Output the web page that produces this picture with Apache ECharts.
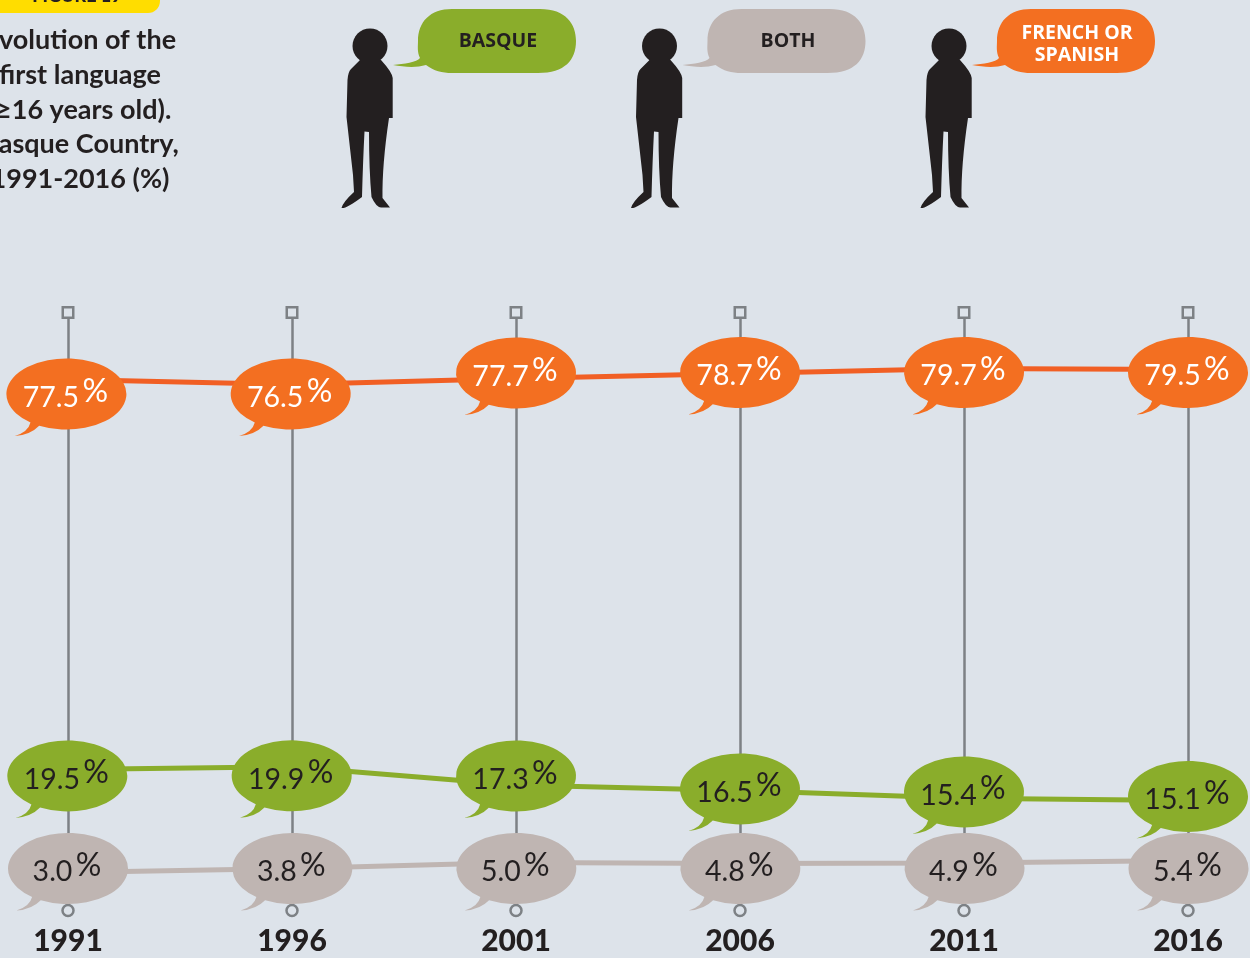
<!DOCTYPE html>
<html>
<head>
<meta charset="utf-8">
<style>html,body{margin:0;padding:0;background:#dde3ea}#c{width:1250px;height:958px}</style>
<script src="https://cdn.jsdelivr.net/npm/echarts@6/dist/echarts.min.js"></script>
</head>
<body>
<div id="c"></div>
<script>
const years = ['1991','1996','2001','2006','2011','2016'];
const frenchOrSpanish = [77.5,76.5,77.7,78.7,79.7,79.5];
const basque = [19.5,19.9,17.3,16.5,15.4,15.1];
const both = [3.0,3.8,5.0,4.8,4.9,5.4];
const titleLines = ['Evolution of the','first language','(≥16 years old).','Basque Country,','1991-2016 (%)'];

// Callouts are placed beside their data point in the reference: pixel nudges from the point.
const orangeNudge = [[-1.6,14.5],[-1.3,9.5],[0,-5.5],[0,-1],[0,4],[0,3]];
const greenNudge  = [[-0.7,6.3],[-0.3,9],[0,-9],[0,-1.7],[0,-6.4],[0,-4]];
const greyNudge   = [[0,-4],[0.3,0],[0.3,6],[0.3,5],[0.5,5.5],[0.5,8]];

const ORANGE='#f36f21', ORANGE_LINE='#f15f24', GREEN='#8aad2b', GREY='#bfb5b2', INK='#231f20', BG='#dde3ea', STEM='#7d8185';
const FONT='Lato';
const bubble='path://M-27 31.7A60 35.5 0 1 0 -35.7 28.5Q-38 38 -51.4 42Q-36 41 -27 31.7Z';

function dataSeries(name, values, nudge, axis, fill, lineColor, textColor, z){
  return {
    name, type:'line', yAxisIndex:axis, z, clip:false, showSymbol:true, showAllSymbol:true,
    symbol:bubble, symbolSize:[120,77.5],
    lineStyle:{color:lineColor,width:5}, itemStyle:{color:fill,opacity:1},
    emphasis:{disabled:true},
    data: values.map((v,i)=>({
      value:v,
      symbolOffset:[nudge[i][0], nudge[i][1]+3.25]
    })),
    label:{
      show:true, position:'inside', offset:[-1,-1.5],
      formatter:p=>`{n|${p.value.toFixed(1)}} {p|%}`,
      rich:{
        n:{fontFamily:FONT,fontSize:28.5,color:textColor,padding:[4,0,0,0]},
        p:{fontFamily:FONT,fontSize:32,color:textColor,padding:[0,0,9,0]}
      }
    }
  };
}

function personPath(){
  const p=(x,y)=>x+' '+y;
  return 'M'+p(360,60)+'L'+p(351,69)+'Q'+p(348,72)+' '+p(347.5,80)+'L'+p(346.5,117)+'L'+p(353,175)+'L'+p(354,192)
    +'Q'+p(343,202)+' '+p(341.5,208)+'Q'+p(346,209)+' '+p(362,197)+'Q'+p(363,160)+' '+p(364.5,131.5)+'L'+p(369,132)
    +'Q'+p(369,170)+' '+p(371.5,197)+'Q'+p(376,207)+' '+p(381,207.5)+'L'+p(390,207.5)+'L'+p(382.5,198)+'Q'+p(382,165)+' '+p(389,118)
    +'L'+p(392.7,118)+'L'+p(392.7,78)+'Q'+p(392,72)+' '+p(381,60)+'Z';
}
function calloutPath(){
  const p=(x,y)=>x+' '+y;
  return 'M'+p(452,9)+'L'+p(540,9)+'C'+p(566,9)+' '+p(576,24)+' '+p(576,41)+'C'+p(576,60)+' '+p(565,73)+' '+p(538,73)
    +'L'+p(452,73)+'C'+p(442,73)+' '+p(434,71)+' '+p(426,65)+'C'+p(416,68)+' '+p(404,67)+' '+p(393,65)
    +'C'+p(404,64)+' '+p(417,62)+' '+p(420,58)+'C'+p(417,52)+' '+p(418,46)+' '+p(418,41)+'C'+p(418,22)+' '+p(430,9)+' '+p(452,9)+'Z';
}
echarts.graphic.registerShape('personBody',echarts.graphic.extendPath(personPath(),{}));
echarts.graphic.registerShape('legendCallout',echarts.graphic.extendPath(calloutPath(),{}));

const graphics=[
  {type:'rect',shape:{x:-20,y:-22,width:180,height:35,r:12},style:{fill:'#ffdd00'},silent:true},
  {type:'text',x:77,y:-4,style:{text:'FIGURE 19',fontFamily:FONT,fontWeight:900,fontSize:18,fill:INK,textAlign:'center',textVerticalAlign:'middle'},silent:true}
];
titleLines.forEach((t,i)=>graphics.push({type:'text',x:80,y:40.5+i*34.7,silent:true,
  style:{text:t,fontFamily:FONT,fontWeight:'bold',fontSize:27,fill:INK,textAlign:'center',textVerticalAlign:'middle'}}));
[0,289.5,579].forEach((dx,i)=>{
  graphics.push({type:'ellipse',shape:{cx:370+dx,cy:46,rx:17.5,ry:17.5},style:{fill:INK},silent:true});
  graphics.push({type:'personBody',x:dx,y:0,style:{fill:INK},silent:true});
  graphics.push({type:'legendCallout',x:dx,y:0,style:{fill:[GREEN,GREY,ORANGE][i]},silent:true});
});
const legendText=[['BASQUE',498,41.5,INK],['BOTH',788,41.5,INK],['FRENCH OR',1077,33.5,'#fff'],['SPANISH',1077,55.5,'#fff']];
legendText.forEach(([t,x,y,c])=>graphics.push({type:'text',x,y,silent:true,
  style:{text:t,fontFamily:'Open Sans',fontWeight:700,fontSize:19.5,fill:c,textAlign:'center',textVerticalAlign:'middle'}}));

const hiddenY=(min,max)=>({type:'value',min,max,show:false,scale:false,splitLine:{show:false}});
const chart=echarts.init(document.getElementById('c'),null,{renderer:'canvas'});
chart.setOption({
  animation:false, backgroundColor:BG,
  grid:{left:68,width:1120,top:312.5,height:598},
  xAxis:{type:'category',boundaryGap:false,data:years,
    axisLine:{show:false},axisTick:{show:false},
    axisLabel:{interval:0,margin:16,fontFamily:FONT,fontWeight:900,fontSize:30,color:INK,showMinLabel:true,showMaxLabel:true},
    splitLine:{show:true,showMinLine:true,showMaxLine:true,interval:0,lineStyle:{color:STEM,width:2.5,type:'solid'}}},
  yAxis:[hiddenY(-28.7,90.9),hiddenY(-0.63,84.8),hiddenY(-4.6,115),hiddenY(0,1)],
  graphic:{elements:graphics},
  series:[
    {name:'stem tops',type:'scatter',yAxisIndex:3,clip:false,z:3,symbol:'rect',symbolSize:10.5,silent:true,
     itemStyle:{color:BG,borderColor:STEM,borderWidth:2.5,opacity:1},data:years.map(()=>1)},
    {name:'stem bases',type:'scatter',yAxisIndex:3,clip:false,z:3,symbol:'circle',symbolSize:11,silent:true,
     itemStyle:{color:BG,borderColor:STEM,borderWidth:2.5,opacity:1},data:years.map(()=>0)},
    dataSeries('French or Spanish',frenchOrSpanish,orangeNudge,0,ORANGE,ORANGE_LINE,'#fff',4),
    dataSeries('Basque',basque,greenNudge,1,GREEN,GREEN,INK,5),
    dataSeries('Both',both,greyNudge,2,GREY,GREY,INK,6)
  ]
});
</script>
</body>
</html>
